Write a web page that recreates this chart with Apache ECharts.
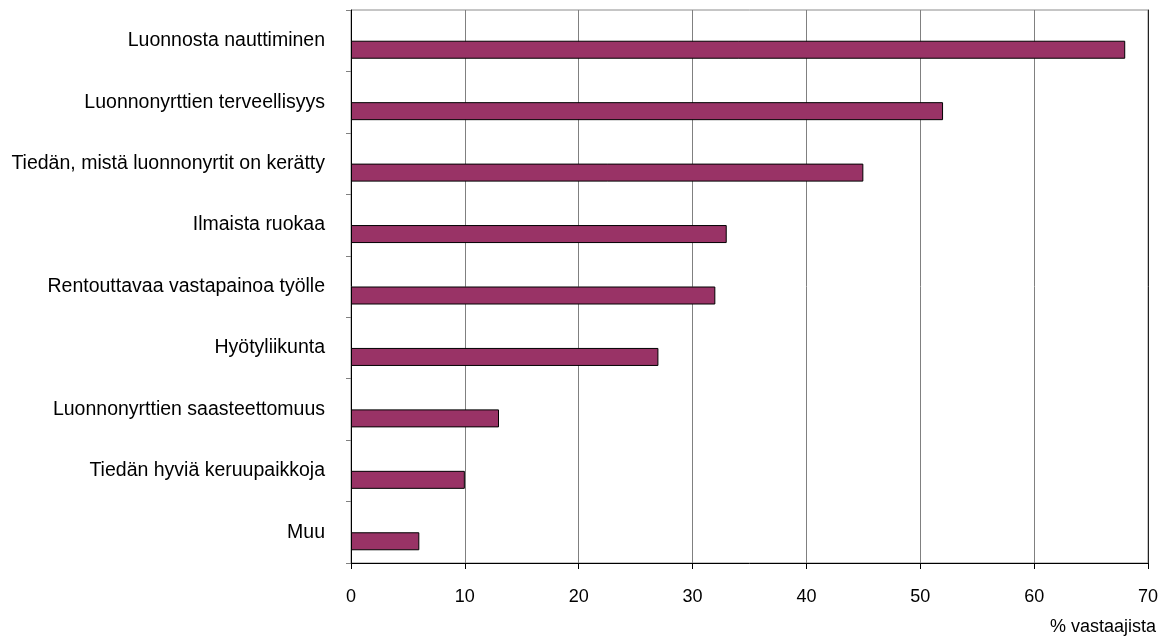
<!DOCTYPE html>
<html>
<head>
<meta charset="utf-8">
<script src="https://cdn.jsdelivr.net/npm/echarts@6/dist/echarts.min.js"></script>
<style>
  html, body { margin: 0; padding: 0; background: #fff; }
  #chart { width: 1168px; height: 636px; }
</style>
</head>
<body>
<div id="chart"></div>
<script>
// Reasons for picking wild herbs, share of respondents (%)
const categories = [
  'Luonnosta nauttiminen',
  'Luonnonyrttien terveellisyys',
  'Tiedän, mistä luonnonyrtit on kerätty',
  'Ilmaista ruokaa',
  'Rentouttavaa vastapainoa työlle',
  'Hyötyliikunta',
  'Luonnonyrttien saasteettomuus',
  'Tiedän hyviä keruupaikkoja',
  'Muu'
];
const shares = [68, 52, 45, 33, 32, 27, 13, 10, 6];
const xTicks = [0, 10, 20, 30, 40, 50, 60, 70];
const axisTitle = '% vastaajista';

const FONT = '"Liberation Sans", Arial, sans-serif';
const chart = echarts.init(document.getElementById('chart'), null, { renderer: 'canvas' });

chart.setOption({
  animation: false,
  backgroundColor: '#ffffff',
  grid: {
    left: 351, right: 20, top: 10, bottom: 69,
    show: true, borderColor: '#8c8c8c', borderWidth: 1
  },
  xAxis: {
    type: 'value',
    min: xTicks[0], max: xTicks[xTicks.length - 1], interval: 10,
    axisLine: { show: true, lineStyle: { color: '#000', width: 1 } },
    axisTick: { show: true, length: 6, lineStyle: { color: '#000' } },
    axisLabel: { margin: 25, color: '#000', fontSize: 18, fontFamily: FONT },
    splitLine: { show: true, lineStyle: { color: '#808080', width: 1 } },
    name: axisTitle,
    nameLocation: 'end',
    nameGap: 8,
    nameTextStyle: {
      color: '#000', fontSize: 18, fontFamily: FONT,
      align: 'right', verticalAlign: 'top', padding: [55, 0, 0, 0]
    }
  },
  yAxis: [{
    type: 'category',
    data: categories,
    inverse: true,
    axisLine: { show: true, lineStyle: { color: '#000', width: 1 } },
    axisTick: { show: true, length: 5, alignWithLabel: false, lineStyle: { color: '#808080' } },
    axisLabel: { margin: 26, color: '#000', fontSize: 19.5, fontFamily: FONT },
    splitLine: { show: false }
  }, {
    type: 'category',
    data: categories,
    inverse: true,
    position: 'right',
    axisLine: { show: true, lineStyle: { color: '#222', width: 1 } },
    axisTick: { show: false },
    axisLabel: { show: false },
    splitLine: { show: false }
  }],
  series: [{
    // empty companion slot so the bar sits in the lower half of each band
    type: 'bar',
    yAxisIndex: 0,
    barWidth: 18,
    barGap: '0%',
    data: categories.map(() => null),
    silent: true
  }, {
    type: 'bar',
    yAxisIndex: 0,
    barWidth: 18,
    barGap: '0%',
    data: shares,
    itemStyle: { color: '#993366', borderColor: '#000', borderWidth: 1 }
  }]
});
</script>
</body>
</html>
